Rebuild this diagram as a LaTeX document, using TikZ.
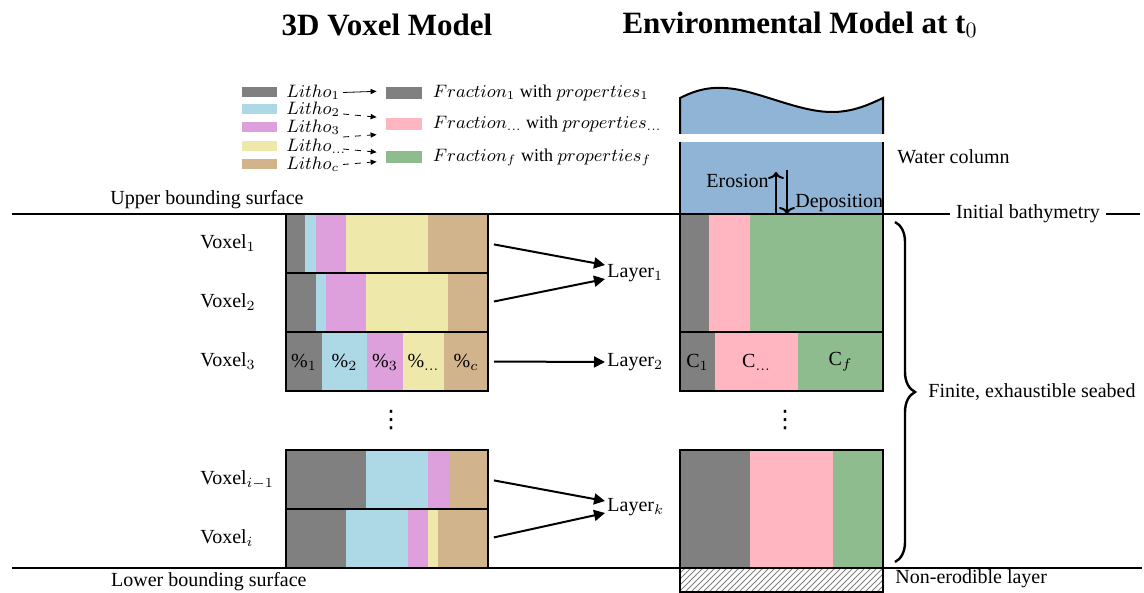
\documentclass[tikz,border=0pt]{standalone}
\usepackage{fontspec}
\setmainfont{Liberation Serif}
\newfontfamily\dotsfont{DejaVu Sans}
\usetikzlibrary{positioning,arrows.meta,patterns,decorations.pathreplacing}

\definecolor{lithoA}{HTML}{808080}
\definecolor{lithoB}{HTML}{ADD8E6}
\definecolor{lithoC}{HTML}{DDA0DD}
\definecolor{lithoD}{HTML}{EEE8AA}
\definecolor{lithoE}{HTML}{D2B48C}
\definecolor{fracA}{HTML}{808080}
\definecolor{fracB}{HTML}{FFB6C1}
\definecolor{fracC}{HTML}{8FBC8F}
\definecolor{water}{HTML}{90B4D5}

\begin{document}
\begin{tikzpicture}[x=0.5pt,y=-0.5pt,inner sep=1pt,
    every node/.style={font=\fontsize{10}{12}\selectfont},
    legend/.style={font=\fontsize{9}{11}\selectfont},
    voxbox/.style={draw,line width=1pt,inner sep=0pt,minimum width=101pt,minimum height=29.5pt},
    envbox/.style={draw,line width=1pt,inner sep=0pt,minimum width=101.5pt},
    swatch/.style={inner sep=0pt,minimum width=17.5pt,minimum height=5pt},
    fswatch/.style={inner sep=0pt,minimum width=18pt,minimum height=6pt},
    flow/.style={line width=1pt,shorten <=2.5pt,-{Triangle[length=5.5pt,width=5.5pt]}},
    legarrow/.style={line width=0.4pt,shorten >=4.5pt,-{Triangle[length=3pt,width=2.6pt]}},
    updown/.style={line width=1pt,-{To[length=3.5pt,width=8pt]}},
    surface/.style={line width=1.1pt},
    vdotsnode/.style={font=\dotsfont\fontsize{12}{12}\selectfont},
    title/.style={font=\fontsize{15.5}{18}\selectfont\bfseries}]
  \useasboundingbox (0,0) rectangle (1144,593);

  % Titles
  \node[title] (title_voxel) at (387,25) {3D Voxel Model};
  \node[title] (title_env) at (800,25) {Environmental Model at t$_0$};

  % Legend
  \node[swatch,fill=lithoA] (sw1) at (259,92.5) {};
  \node[swatch,fill=lithoB] (sw2) at (259,109) {};
  \node[swatch,fill=lithoC] (sw3) at (259,127) {};
  \node[swatch,fill=lithoD] (sw4) at (259,146) {};
  \node[swatch,fill=lithoE] (sw5) at (259,164.5) {};
  \node[legend] (litho1) [right=3.5pt of sw1] {$Litho_1$};
  \node[legend] (litho2) [right=3.5pt of sw2] {$Litho_2$};
  \node[legend] (litho3) [right=3.5pt of sw3] {$Litho_3$};
  \node[legend] (litho4) [right=3.5pt of sw4] {$Litho_{\dots}$};
  \node[legend] (litho5) [right=3.5pt of sw5] {$Litho_c$};

  \node[fswatch,fill=fracA] (fsw1) at (404,93) {};
  \node[fswatch,fill=fracB] (fsw2) at (404,124) {};
  \node[fswatch,fill=fracC] (fsw3) at (404,157) {};
  \node[legend] (frac1) [right=4pt of fsw1] {$Fraction_1$ with $properties_1$};
  \node[legend] (frac2) [right=4pt of fsw2] {$Fraction_{\dots}$ with $properties_{\dots}$};
  \node[legend] (frac3) [right=4pt of fsw3] {$Fraction_f$ with $properties_f$};

  \coordinate (arrow_x) at (343,0);
  \draw[legarrow] (litho1.east -| arrow_x) -- ([yshift=1pt]fsw1.west);
  \draw[legarrow,dashed] ([yshift=-2.5pt]litho2.east -| arrow_x) -- ([yshift=3pt]fsw2.west);
  \draw[legarrow,dashed] ([yshift=-5pt]litho3.east -| arrow_x) -- ([yshift=-5pt]fsw2.west);
  \draw[legarrow,dashed] ([yshift=-1.5pt]litho4.east -| arrow_x) -- ([yshift=2pt]fsw3.west);
  \draw[legarrow,dashed] (litho5.east -| arrow_x) -- ([yshift=-2pt]fsw3.west);

  % Voxel columns
  \foreach \xa/\xb/\c in {286/305/lithoA,305/316/lithoB,316/346/lithoC,346/428/lithoD,428/488/lithoE}
    \fill[\c] (\xa,214) rectangle (\xb,273);
  \foreach \xa/\xb/\c in {286/316/lithoA,316/326/lithoB,326/366/lithoC,366/448/lithoD,448/488/lithoE}
    \fill[\c] (\xa,273) rectangle (\xb,332);
  \foreach \xa/\xb/\c in {286/322/lithoA,322/367/lithoB,367/403/lithoC,403/444/lithoD,444/488/lithoE}
    \fill[\c] (\xa,332) rectangle (\xb,391);
  \foreach \xa/\xb/\c in {286/366/lithoA,366/428/lithoB,428/449/lithoC,449/488/lithoE}
    \fill[\c] (\xa,450) rectangle (\xb,509);
  \foreach \xa/\xb/\c in {286/346/lithoA,346/408/lithoB,408/428/lithoC,428/438/lithoD,438/488/lithoE}
    \fill[\c] (\xa,509) rectangle (\xb,568);

  \node[voxbox] (voxel1) at (387,243.5) {};
  \node[voxbox] (voxel2) at (387,302.5) {};
  \node[voxbox] (voxel3) at (387,361.5) {};
  \node[voxbox] (voxel_im1) at (387,479.5) {};
  \node[voxbox] (voxel_i) at (387,538.5) {};

  \node (pct1) at (304,362) {\%$_1$};
  \node (pct2) at (344.5,362) {\%$_2$};
  \node (pct3) at (385,362) {\%$_3$};
  \node (pct4) at (423.5,362) {\%$_{\dots}$};
  \node (pct5) at (466,362) {\%$_c$};

  \coordinate (label_x) at (198,0);
  \node[anchor=west] (vlab1) at (voxel1 -| label_x) {Voxel$_1$};
  \node[anchor=west] (vlab2) at (voxel2 -| label_x) {Voxel$_2$};
  \node[anchor=west] (vlab3) at (voxel3 -| label_x) {Voxel$_3$};
  \node[anchor=west] (vlab_im1) at (voxel_im1 -| label_x) {Voxel$_{i-1}$};
  \node[anchor=west] (vlab_i) at (voxel_i -| label_x) {Voxel$_i$};
  \node[vdotsnode] (vdots_voxel) at (391,420) {⋮};

  % Layers
  \node[anchor=west] (layer1) at (605,273) {Layer$_1$};
  \node[anchor=west] (layer2) at (605,362) {Layer$_2$};
  \node[anchor=west] (layerk) at (605,507) {Layer$_k$};

  \draw[flow] (voxel1.east) -- ([yshift=4pt]layer1.west);
  \draw[flow] (voxel2.east) -- ([yshift=-3pt]layer1.west);
  \draw[flow] (voxel3.east) -- (layer2.west);
  \draw[flow] (voxel_im1.east) -- ([yshift=3pt]layerk.west);
  \draw[flow] (voxel_i.east) -- ([yshift=-3pt]layerk.west);

  % Environmental model
  \fill[water] (680,134) -- (680,98) .. controls (698,89) and (714,85) .. (740,90)
    .. controls (772,97) and (805,113) .. (835,112) .. controls (856,111) and (870,104) .. (883,98)
    -- (883,134) -- cycle;
  \draw[line width=1pt] (680,134) -- (680,98) .. controls (698,89) and (714,85) .. (740,90)
    .. controls (772,97) and (805,113) .. (835,112) .. controls (856,111) and (870,104) .. (883,98)
    -- (883,134);
  \node[inner sep=0pt,minimum width=101.5pt,minimum height=36pt,fill=water] (water_low) at (781.5,178) {};
  \draw[line width=1pt] (water_low.south west) -- (water_low.north west);
  \draw[line width=1pt] (water_low.south east) -- (water_low.north east);

  \foreach \xa/\xb/\c in {680/709/fracA,709/750/fracB,750/883/fracC}
    \fill[\c] (\xa,214) rectangle (\xb,332);
  \foreach \xa/\xb/\c in {680/715/fracA,715/798/fracB,798/883/fracC}
    \fill[\c] (\xa,332) rectangle (\xb,391);
  \foreach \xa/\xb/\c in {680/750/fracA,750/833/fracB,833/883/fracC}
    \fill[\c] (\xa,450) rectangle (\xb,568);

  \node[envbox,minimum height=59pt] (env1) at (781.5,273) {};
  \node[envbox,minimum height=29.5pt] (env2) at (781.5,361.5) {};
  \node[envbox,minimum height=59pt] (envk) at (781.5,509) {};
  \node[envbox,minimum height=12pt,pattern=north east lines,pattern color=gray] (bedrock) at (781.5,580) {};

  \node (c1) at (697.5,362) {C$_1$};
  \node (c2) at (756.5,362) {C$_{\dots}$};
  \node (c3) at (840.5,362) {C$_f$};
  \node[vdotsnode] (vdots_env) at (785,420) {⋮};

  % Erosion and deposition
  \coordinate (ero_foot) at (776,214);
  \coordinate (ero_top) at (776,172);
  \coordinate (dep_top) at (787,170);
  \coordinate (dep_foot) at (787,214);
  \draw[updown] (ero_foot) -- (ero_top);
  \draw[updown] (dep_top) -- (dep_foot);
  \node[anchor=east] (erosion) at (771,181) {Erosion};
  \node[anchor=west] (deposition) at (793,203) {Deposition};
  \node[anchor=west] (water_lab) at (895,157) {Water column};

  % Bounding surfaces
  \node (bathy) at (1028,214) {Initial bathymetry};
  \coordinate (upper_left) at (12,214);
  \coordinate (upper_right) at (1140,214);
  \coordinate (lower_left) at (12,568);
  \coordinate (lower_right) at (1142,568);
  \draw[surface] (upper_left) -- ([xshift=-2pt]bathy.west);
  \draw[surface] ([xshift=2pt]bathy.east) -- (upper_right);
  \draw[surface] (lower_left) -- (lower_right);
  \node[anchor=south east] (upper_lab) at (306,211) {Upper bounding surface};
  \node[anchor=north east] (lower_lab) at (309,570) {Lower bounding surface};
  \node[anchor=west] (nonerod) at (893,579) {Non-erodible layer};

  % Seabed brace
  \coordinate (brace_top) at (895,222);
  \coordinate (brace_bot) at (895,562);
  \draw[line width=1.2pt,decorate,decoration={brace,amplitude=10pt}] (brace_top) -- (brace_bot);
  \node[anchor=west] (seabed) at (926,392) {Finite, exhaustible seabed};
\end{tikzpicture}
\end{document}
